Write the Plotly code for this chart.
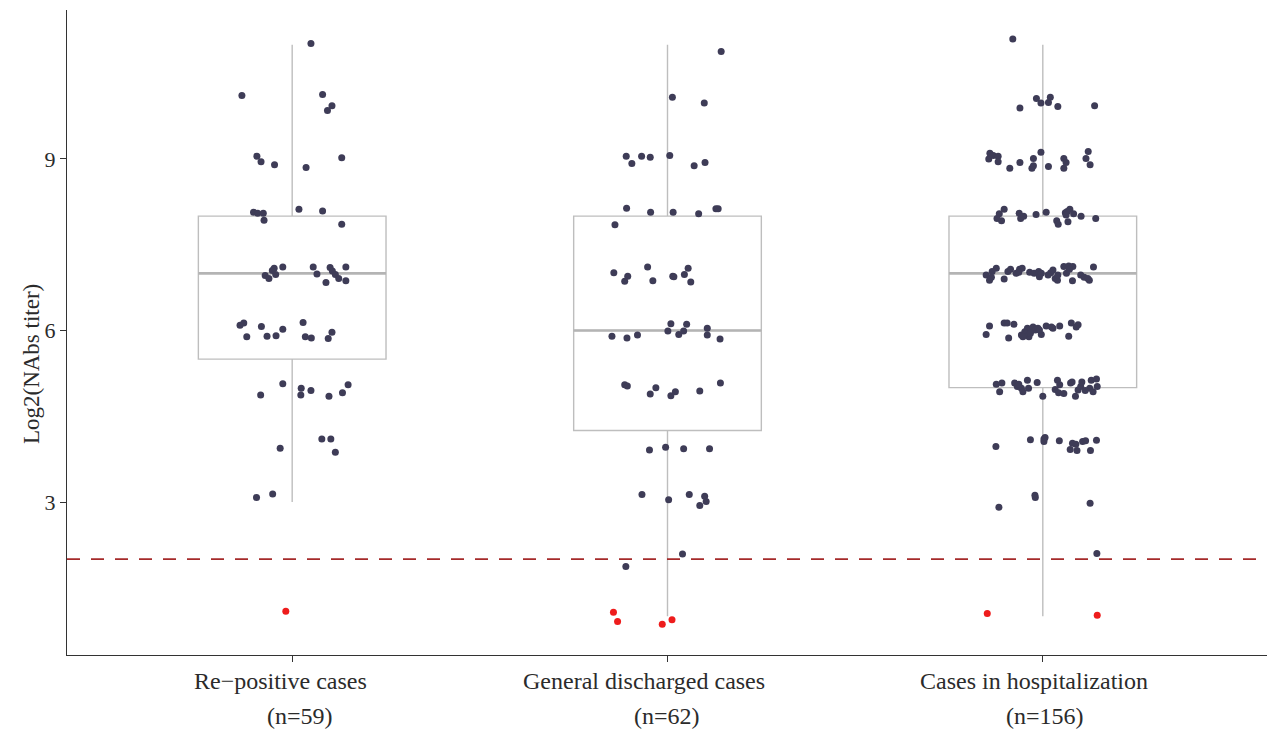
import numpy as np
import plotly.graph_objects as go

# ---------------- data ----------------
categories = ["Re\u2212positive cases", "General discharged cases", "Cases in hospitalization"]
n_labels = ["(n=59)", "(n=62)", "(n=156)"]
threshold = 2
y_ticks = [3, 6, 9]

# Log2(NAbs titer) per case
repos_values = [11.02, 10.11, 10.13, 9.93, 9.85, 9.05, 8.95, 8.90, 8.85, 9.02,
                8.07, 8.05, 8.05, 7.93, 8.12, 8.09, 7.86,
                6.96, 6.91, 7.05, 7.09, 6.98, 7.11, 7.11, 6.99, 6.84, 7.10, 7.04, 6.98, 6.91, 7.11, 6.87,
                6.09, 6.13, 5.89, 6.07, 5.90, 5.91, 6.02, 6.14, 5.89, 5.87, 5.86, 5.97,
                4.87, 5.07, 4.99, 4.87, 4.95, 4.85, 4.91, 5.05,
                3.94, 4.10, 4.10, 3.87,
                3.08, 3.14,
                1.09]
repos_jitter = [0.050, -0.134, 0.081, 0.106, 0.094, -0.094, -0.083, -0.047, 0.037, 0.132,
                -0.103, -0.092, -0.077, -0.075, 0.018, 0.081, 0.132,
                -0.072, -0.062, -0.053, -0.048, -0.044, -0.025, 0.056, 0.066, 0.090, 0.101, 0.107, 0.115, 0.124, 0.143, 0.143,
                -0.139, -0.129, -0.121, -0.082, -0.067, -0.043, -0.025, 0.029, 0.035, 0.051, 0.096, 0.106,
                -0.084, -0.025, 0.024, 0.023, 0.050, 0.098, 0.134, 0.149,
                -0.032, 0.079, 0.103, 0.115,
                -0.095, -0.052,
                -0.017]

general_values = [10.88, 10.08, 9.98,
                  9.05, 8.92, 9.05, 9.03, 9.06, 8.88, 8.94,
                  8.14, 8.07, 8.07, 8.04, 8.13, 8.13, 7.85,
                  7.01, 6.86, 6.95, 7.11, 6.87, 6.95, 6.98, 7.09, 6.85, 6.94,
                  5.90, 5.87, 5.92, 5.99, 6.12, 5.93, 5.99, 6.11, 6.04, 5.92, 5.85,
                  5.05, 5.03, 4.89, 5.00, 4.86, 4.93, 4.94, 5.08,
                  3.91, 3.96, 3.93, 3.93,
                  3.13, 3.04, 3.13, 3.10, 3.01, 2.94,
                  2.09, 1.87,
                  1.07, 0.91, 0.86, 0.94]
general_jitter = [0.143, 0.013, 0.098,
                  -0.110, -0.095, -0.069, -0.046, 0.006, 0.071, 0.100,
                  -0.109, -0.045, 0.015, 0.083, 0.129, 0.135, -0.140,
                  -0.143, -0.114, -0.106, -0.053, -0.039, 0.014, 0.045, 0.055, 0.062, 0.017,
                  -0.148, -0.108, -0.080, 0.001, 0.009, 0.030, 0.043, 0.051, 0.106, 0.106, 0.140,
                  -0.114, -0.107, -0.046, -0.031, 0.009, 0.021, 0.086, 0.141,
                  -0.048, -0.005, 0.043, 0.112,
                  -0.068, 0.003, 0.058, 0.099, 0.103, 0.086,
                  0.040, -0.111,
                  -0.144, -0.133, -0.014, 0.012]

hosp_values = [11.10,
               10.06, 9.98, 9.99, 10.08, 9.89, 9.92, 9.93,
               9.10, 9.00, 9.06, 9.05, 8.95, 8.84, 8.94, 8.84, 9.01, 8.88, 9.12, 8.87, 9.01, 8.84, 8.94, 9.01, 9.13, 8.90,
               8.12, 8.04, 7.96, 7.92, 8.05, 7.96, 8.00, 8.03, 8.07, 7.92, 7.86, 8.06, 8.08, 8.12, 7.90, 8.04, 8.00, 7.96, 8.02,
               6.97, 6.88, 7.03, 7.09, 6.90, 7.03, 7.07, 7.00, 7.07, 7.09, 7.02, 7.00, 7.03, 6.94, 7.00, 7.01, 7.06,
               6.91, 6.88, 6.97, 7.12, 7.00, 7.13, 7.12, 6.87, 6.97, 6.93, 6.88, 7.11, 6.93, 7.02, 6.97, 7.07, 6.91,
               6.08, 5.93, 6.13, 6.13, 6.11, 5.87, 5.92, 5.98, 6.04, 5.89, 6.01, 6.06, 6.01, 6.04, 5.93, 6.08, 6.04,
               6.08, 5.90, 6.13, 6.06, 6.10, 5.95, 5.89, 6.01, 5.95, 6.06,
               5.06, 4.93, 5.08, 5.08, 5.02, 4.99, 4.93, 5.13, 4.99, 5.09, 4.85, 4.97, 5.13, 4.91, 4.90, 5.08, 5.10,
               4.85, 4.96, 5.02, 5.10, 4.99, 5.13, 4.93, 5.15, 5.02, 5.06, 5.05, 4.95,
               3.97, 4.09, 4.06, 4.13, 4.07, 4.03, 4.01, 3.92, 3.90, 4.06, 4.07, 3.90, 4.08, 4.10,
               3.12, 3.08, 2.91, 2.98,
               2.10,
               1.05, 1.02]
hosp_jitter = [-0.080,
               -0.017, -0.005, 0.015, 0.020, -0.061, 0.040, 0.138,
               -0.141, -0.144, -0.132, -0.119, -0.119, -0.088, -0.061, -0.029, -0.025, -0.025, -0.005, 0.015, 0.056, 0.056, 0.062, 0.115, 0.121, 0.126,
               -0.103, -0.116, -0.122, -0.110, -0.063, -0.059, -0.051, -0.018, 0.009, 0.037, 0.041, 0.060, 0.065, 0.072, 0.067, 0.082, 0.102, 0.141, 0.062,
               -0.151, -0.142, -0.135, -0.124, -0.103, -0.093, -0.086, -0.071, -0.062, -0.055, -0.035, -0.023, -0.011, -0.009, -0.004, 0.021, 0.027,
               0.033, 0.039, 0.040, 0.056, 0.063, 0.069, 0.080, 0.079, 0.101, 0.110, 0.124, 0.135, -0.137, -0.064, 0.014, 0.071, 0.120,
               -0.142, -0.151, -0.103, -0.095, -0.077, -0.091, -0.057, -0.048, -0.041, -0.037, -0.033, -0.026, -0.020, -0.013, -0.004, 0.009, 0.027,
               0.045, 0.069, 0.076, 0.089, 0.094, -0.044, -0.053, -0.009, -0.033, 0.023,
               -0.124, -0.115, -0.109, -0.075, -0.068, -0.057, -0.053, -0.041, -0.038, -0.015, 0.000, 0.033, 0.039, 0.042, 0.056, 0.074, 0.078,
               0.087, 0.094, 0.101, 0.104, 0.125, 0.129, 0.134, 0.143, 0.145, -0.064, 0.045, 0.113,
               -0.125, -0.033, 0.003, 0.006, 0.044, 0.079, 0.088, 0.073, 0.091, 0.106, 0.114, 0.127, 0.143, 0.003,
               -0.021, -0.020, -0.117, 0.126,
               0.144,
               -0.148, 0.145]

groups = [(repos_values, repos_jitter), (general_values, general_jitter), (hosp_values, hosp_jitter)]

# ---------------- styling ----------------
FONT = "Liberation Serif"
DOT = "#3E3C57"
LOW = "#EE1C1C"
BOX = "#BEBEBE"
MEDIAN = "#B4B4B4"
TXT = "#2B2B2B"
BOX_WIDTH = 0.5
# small horizontal nudges of the two label lines, as in the reference
line1_shift = [-12, -24, -9]
line2_shift = [8, -1, 2]


def box_stats(vals):
    v = np.round(np.asarray(vals))  # titers are integer log2 steps
    q1, med, q3 = np.percentile(v, [25, 50, 75])
    iqr = q3 - q1
    lo = v[v >= q1 - 1.5 * iqr].min()
    hi = v[v <= q3 + 1.5 * iqr].max()
    return q1, med, q3, lo, hi


fig = go.Figure()

for i, (vals, jit) in enumerate(groups):
    q1, med, q3, lo, hi = box_stats(vals)
    fig.add_trace(go.Box(
        x=[i], q1=[q1], median=[med], q3=[q3], lowerfence=[lo], upperfence=[hi],
        width=BOX_WIDTH, whiskerwidth=0, boxpoints=False,
        line=dict(color=BOX, width=1.4), fillcolor="white",
        showlegend=False, hoverinfo="skip"))
    # ggplot draws the median with a heavier stroke
    fig.add_trace(go.Scatter(
        x=[i - BOX_WIDTH / 2, i + BOX_WIDTH / 2], y=[med, med], mode="lines",
        line=dict(color=MEDIAN, width=2.6), showlegend=False, hoverinfo="skip"))

for i, (vals, jit) in enumerate(groups):
    vals = np.asarray(vals)
    xs = i + np.asarray(jit)
    # colour by the underlying (integer) titer: below the cut-off -> red
    colors = [LOW if round(v) < threshold else DOT for v in vals]
    fig.add_trace(go.Scatter(
        x=xs, y=vals, mode="markers",
        marker=dict(size=7, color=colors, line=dict(width=0)),
        showlegend=False))

fig.add_hline(y=threshold, line=dict(color="#A52A2A", width=1.8, dash="13px,11px"))

annotations = []
for i, (c, n) in enumerate(zip(categories, n_labels)):
    annotations.append(dict(x=i, y=0, xref="x", yref="paper", text=c, showarrow=False,
                            yshift=-26, xshift=line1_shift[i], yanchor="middle", xanchor="center",
                            font=dict(family=FONT, size=24, color=TXT)))
    annotations.append(dict(x=i, y=0, xref="x", yref="paper", text=n, showarrow=False,
                            yshift=-61, xshift=line2_shift[i], yanchor="middle", xanchor="center",
                            font=dict(family=FONT, size=24, color=TXT)))
annotations.append(dict(x=-0.030, y=0.451, xref="paper", yref="paper", text="Log2(NAbs titer)",
                        textangle=-90, showarrow=False, xanchor="center", yanchor="middle",
                        font=dict(family=FONT, size=23, color=TXT)))

# the page body adds an 8 px offset; size the figure so the panel lands where the reference has it
fig.update_layout(
    width=1267, height=721,
    margin=dict(l=59, r=7, t=2, b=74),
    paper_bgcolor="white", plot_bgcolor="white",
    annotations=annotations,
    xaxis=dict(range=[-0.6, 2.6], tickvals=[0, 1, 2], showticklabels=False,
               ticks="outside", ticklen=6, tickwidth=1.3, tickcolor="#333333",
               showline=True, linecolor="#333333", linewidth=1.3,
               showgrid=False, zeroline=False),
    yaxis=dict(range=[0.324, 11.606], tickvals=y_ticks, ticks="outside", ticklen=6,
               tickwidth=1.3, tickcolor="#333333",
               showline=True, linecolor="#333333", linewidth=1.3,
               showgrid=False, zeroline=False,
               tickfont=dict(family=FONT, size=22, color=TXT)),
)

fig.write_html("out.html")
